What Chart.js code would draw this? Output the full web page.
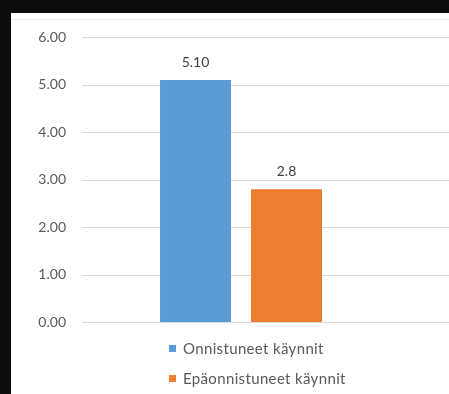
<!DOCTYPE html>
<html>
<head>
<meta charset="utf-8">
<script src="https://cdn.jsdelivr.net/npm/chart.js@4"></script>
<style>
  html, body { margin: 0; padding: 0; background: #0b0b0b; width: 449px; height: 394px; overflow: hidden; }
  #panel { position: absolute; left: 11px; top: 13px; width: 438px; height: 381px; background: #ffffff; }
  #topline { position: absolute; left: 0; top: 6px; width: 438px; height: 1px; background: #ededed; }
  #c { position: absolute; left: 0; top: 0; }
  #legend { position: absolute; left: 158px; top: 320px; font-family: Lato, "Open Sans", sans-serif; font-size: 15px; letter-spacing: 0.35px; color: #595959; }
  .item { display: flex; align-items: center; height: 30px; white-space: nowrap; }
  .box { width: 7px; height: 7px; margin-right: 7px; }
</style>
</head>
<body>
<div id="panel">
  <div id="topline"></div>
  <canvas id="c" width="438" height="381"></canvas>
  <div id="legend"></div>
</div>
<script>
const categories = [''];
const seriesNames = ['Onnistuneet käynnit', 'Epäonnistuneet käynnit'];
const successValues = [5.10];
const failureValues = [2.8];
const successLabels = ['5.10'];
const failureLabels = ['2.8'];
const yTickValues = [0, 1, 2, 3, 4, 5, 6];

const seriesColors = ['#5b9bd5', '#ed7d31'];
const valueLabelSets = [successLabels, failureLabels];

// Horizontal gridlines from the y scale's ticks, running past the plot area to the right edge
const wideGrid = {
  id: 'wideGrid',
  beforeDatasetsDraw(chart) {
    const y = chart.scales.y;
    const ctx = chart.ctx;
    ctx.save();
    ctx.strokeStyle = '#d9d9d9';
    ctx.lineWidth = 1;
    y.ticks.forEach(t => {
      const py = Math.round(y.getPixelForValue(t.value)) + 0.5;
      ctx.beginPath();
      ctx.moveTo(chart.chartArea.left, py);
      ctx.lineTo(chart.width, py);
      ctx.stroke();
    });
    ctx.restore();
  }
};

const valueLabels = {
  id: 'valueLabels',
  afterDatasetsDraw(chart) {
    const ctx = chart.ctx;
    ctx.save();
    ctx.font = '14px Lato, "Open Sans", sans-serif';
    ctx.fillStyle = '#404040';
    ctx.textAlign = 'center';
    ctx.textBaseline = 'alphabetic';
    chart.data.datasets.forEach((ds, i) => {
      const meta = chart.getDatasetMeta(i);
      meta.data.forEach((bar, j) => {
        ctx.fillText(valueLabelSets[i][j], bar.x, bar.y - 13);
      });
    });
    ctx.restore();
  }
};

const chart = new Chart(document.getElementById('c'), {
  type: 'bar',
  data: {
    labels: categories,
    datasets: [
      { label: seriesNames[0], data: successValues, backgroundColor: seriesColors[0] },
      { label: seriesNames[1], data: failureValues, backgroundColor: seriesColors[1] }
    ]
  },
  options: {
    responsive: false,
    animation: false,
    devicePixelRatio: 1,
    categoryPercentage: 0.5723,
    barPercentage: 0.78,
    layout: { padding: { left: 0, top: 24, right: 49, bottom: 72 } },
    plugins: { legend: { display: false }, tooltip: { enabled: false } },
    scales: {
      x: { display: false },
      y: {
        min: 0, max: 6,
        afterBuildTicks(scale) { scale.ticks = yTickValues.map(v => ({ value: v })); },
        afterFit(scale) { scale.width = 71; },
        border: { display: false },
        grid: { display: false, drawTicks: false },
        ticks: {
          padding: 16,
          color: '#595959',
          font: { family: 'Lato, "Open Sans", sans-serif', size: 14 },
          callback: v => Number(v).toFixed(2)
        }
      }
    }
  },
  plugins: [wideGrid, valueLabels]
});

const legendEl = document.getElementById('legend');
chart.data.datasets.forEach(ds => {
  const item = document.createElement('div');
  item.className = 'item';
  const box = document.createElement('span');
  box.className = 'box';
  box.style.background = ds.backgroundColor;
  const txt = document.createElement('span');
  txt.textContent = ds.label;
  item.appendChild(box);
  item.appendChild(txt);
  legendEl.appendChild(item);
});
</script>
</body>
</html>
